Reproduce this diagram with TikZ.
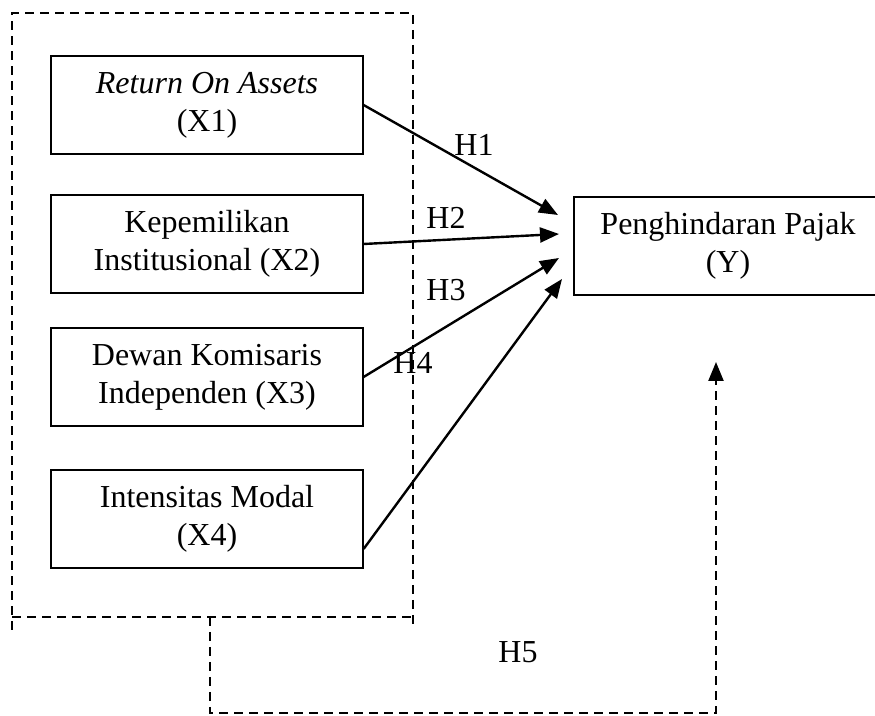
\documentclass[tikz,border=0pt]{standalone}
\usepackage{fontspec}
\setmainfont{Liberation Serif}
\usepackage{tikz}
\usetikzlibrary{arrows.meta}

\begin{document}
\begin{tikzpicture}[x=0.5pt,y=-0.5pt,
		var/.style={draw, line width=0.6pt, minimum width=156pt, minimum height=49pt, align=center, inner sep=0pt, font=\fontsize{16}{19}\selectfont},
		lbl/.style={inner sep=0pt, font=\fontsize{16}{19}\selectfont},
		hyp/.style={-{Triangle[length=9.5pt,width=7.5pt]}, line width=1.2pt},
		grp/.style={dash pattern=on 4.5pt off 3pt, line width=1.2pt}]
		\useasboundingbox (0,0) rectangle (875,716);

		% variables
		\node[var] (x1) at (207,105) {\textit{Return On Assets}\\(X1)};
		\node[var] (x2) at (207,244) {Kepemilikan\\Institusional (X2)};
		\node[var] (x3) at (207,377) {Dewan Komisaris\\Independen (X3)};
		\node[var] (x4) at (207,519) {Intensitas Modal\\(X4)};
		\node[var, minimum width=154pt] (y) at (728,246) {Penghindaran Pajak\\(Y)};

		% group of independent variables
		\draw[grp] (12,630) -- (12,13) -- (413,13) -- (413,630);
		\draw[grp] (12,617) -- (413,617);

		% arrow ends
		\coordinate (t1) at (558,215);
		\coordinate (t2) at (559,234);
		\coordinate (t3) at (559,258);
		\coordinate (t4) at (562,279);
		\coordinate (g5) at (210,617);
		\coordinate (t5) at (716,362);

		\draw[hyp] (x1.east) -- (t1);
		\draw[hyp] (x2.east) -- (t2);
		\draw[hyp] (x3.east) -- (t3);
		\draw[hyp] ([yshift=-15pt]x4.east) -- (t4);
		\draw[hyp, grp] (g5) -- (210,713) -- (716,713) -- (t5);

		\node[lbl] (h1) at (474,145) {H1};
		\node[lbl] (h2) at (446,218) {H2};
		\node[lbl] (h3) at (446,290) {H3};
		\node[lbl] (h4) at (413,363) {H4};
		\node[lbl] (h5) at (518,652) {H5};
	\end{tikzpicture}
\end{document}
